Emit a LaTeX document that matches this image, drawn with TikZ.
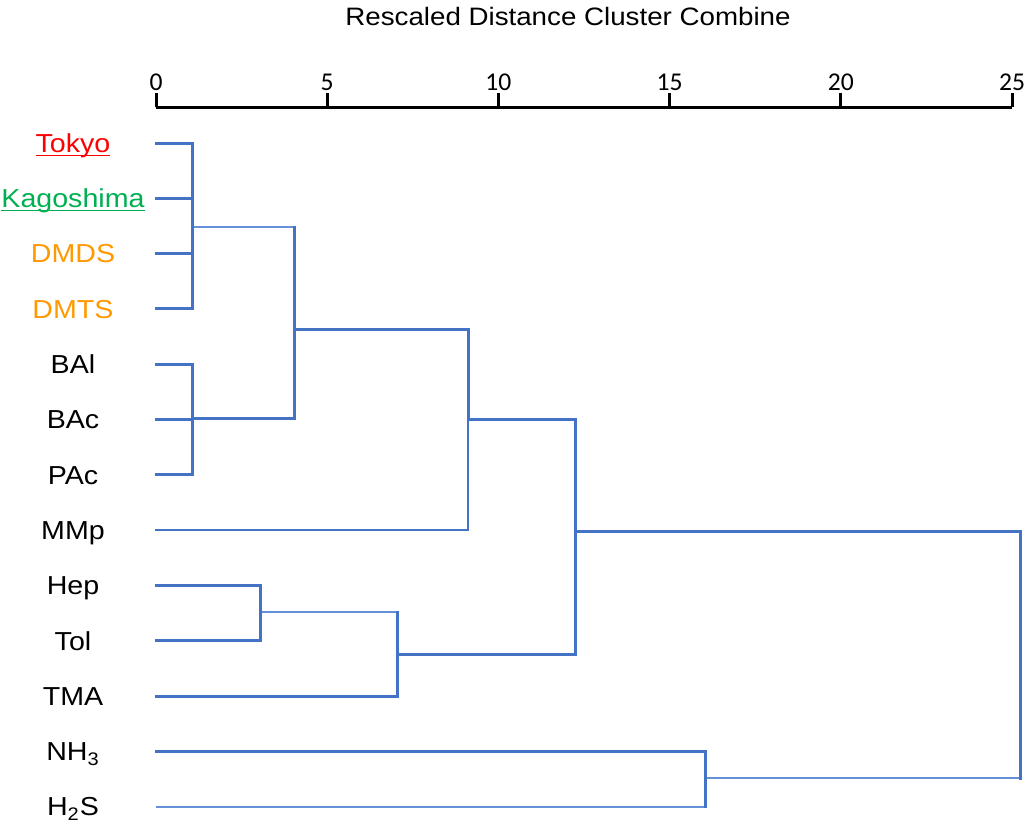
\documentclass[tikz,border=0pt]{standalone}
\usepackage{fontspec}
\setmainfont{Liberation Sans}[FakeStretch=1.1]
\newfontfamily\tickfont{Carlito}
\usepackage{tikz}
\usetikzlibrary{positioning}

\definecolor{linkblue}{RGB}{68,114,196}
\definecolor{lightblue}{RGB}{100,145,215}
\definecolor{tokyored}{RGB}{255,0,0}
\definecolor{kagogreen}{RGB}{0,176,80}
\definecolor{sulforange}{RGB}{255,153,0}

\newcommand{\ulabel}[1]{\underline{\smash{#1}}}

\begin{document}
\begin{tikzpicture}[x=0.5pt, y=-0.5pt, node distance = 27.65pt]

\tikzstyle{leaf} = [anchor=center, text height=10.8pt, text depth=1.5pt, inner sep=0pt, font=\fontsize{13}{15}\selectfont]
\tikzstyle{link} = [draw=linkblue, line width=1.5pt, line cap=rect]
\tikzstyle{thinlink} = [draw=lightblue, line width=1.1pt]
\tikzstyle{axis} = [draw=black, line width=1.5pt]

\useasboundingbox (0,0) rectangle (1024,827);

% title and scale
\node (title) at (568,16) {\fontsize{12.6}{14}\selectfont Rescaled Distance Cluster Combine};
\coordinate (o) at (156,107);
\coordinate (e) at (1012,107);
\draw[axis] (o) -- (e);
\foreach \v in {0,5,...,25}{
    \draw[axis] (156+\v*34.24,107) -- (156+\v*34.24,93);
    \node[font=\tickfont\fontsize{12.8}{15}\selectfont] (tick\v) at (156+\v*34.24,82) {\v};
}

% leaves
\node (tokyo)[leaf, text=tokyored] at (73,143) {\ulabel{Tokyo}};
\node (kago)[leaf, below of = tokyo, text=kagogreen]{\ulabel{Kagoshima}};
\node (dmds)[leaf, below of = kago, text=sulforange]{DMDS};
\node (dmts)[leaf, below of = dmds, text=sulforange]{DMTS};
\node (bal)[leaf, below of = dmts]{BAl};
\node (bac)[leaf, below of = bal]{BAc};
\node (pac)[leaf, below of = bac]{PAc};
\node (mmp)[leaf, below of = pac]{MMp};
\node (hep)[leaf, below of = mmp]{Hep};
\node (tol)[leaf, below of = hep]{Tol};
\node (tma)[leaf, below of = tol]{TMA};
\node (nh3)[leaf, below of = tma]{NH\textsubscript{3}};
\node (h2s)[leaf, below of = nh3]{H\textsubscript{2}S};

% clusters
\coordinate (c1) at (192,227);
\coordinate (c2) at (192,418);
\coordinate (c3) at (294,329);
\coordinate (c4) at (468,419);
\coordinate (c5) at (260,612);
\coordinate (c6) at (397,654);
\coordinate (c7) at (575,531);
\coordinate (c8) at (705,778);
\coordinate (c9) at (1020,655);

% links
\draw[thinlink] (c1) -| (c3);
\draw[thinlink] (c5) -| (c6);
\draw[thinlink] (o |- h2s) -| (c8);
\draw[thinlink] (c8) -| (c9);

\draw[link] (o |- tokyo) -| (c1);
\draw[link] (o |- kago) -| (c1);
\draw[link] (o |- dmds) -| (c1);
\draw[link] (o |- dmts) -| (c1);

\draw[link] (o |- bal) -| (c2);
\draw[link] (o |- bac) -| (c2);
\draw[link] (o |- pac) -| (c2);
\draw[link] (c2) -| (c3 |- c1);

\draw[link] (c3) -| (c4);
\draw[link, line width=1.2pt] (o |- mmp) -| (c4);

\draw[link] (o |- hep) -| (c5);
\draw[link] (o |- tol) -| (c5);
\draw[link] (o |- tma) -| (c6 |- c5);

\draw[link] (c4) -| (c7);
\draw[link] (c6) -| (c7);

\draw[link] (o |- nh3) -| (c8 |- h2s);

\draw[link] (c7) -| (c9 |- c8);

\end{tikzpicture}
\end{document}
